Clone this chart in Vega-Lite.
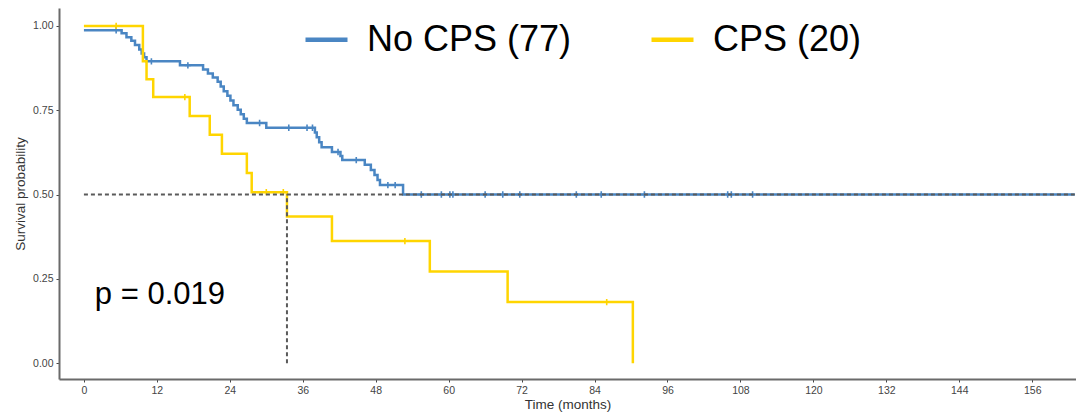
{
  "$schema": "https://vega.github.io/schema/vega-lite/v6.json",
  "width": 1017,
  "height": 371,
  "autosize": {"type": "none"},
  "padding": {"left": 59, "top": 8, "right": 0, "bottom": 33},
  "config": {
    "view": {"stroke": null},
    "font": "Liberation Sans",
    "axis": {
      "grid": false,
      "domainColor": "#6a6a6a",
      "domainWidth": 2,
      "tickColor": "#444444",
      "tickSize": 3,
      "tickWidth": 1,
      "labelColor": "#444444",
      "labelFontSize": 10.5,
      "labelPadding": 3,
      "titleColor": "#333333",
      "titleFontSize": 13.5,
      "titleFontWeight": "normal"
    }
  },
  "datasets": {
    "curves": [
      {"g": "No CPS (77)", "t": 0, "s": 0.987},
      {"g": "No CPS (77)", "t": 6.2, "s": 0.978},
      {"g": "No CPS (77)", "t": 7.0, "s": 0.966},
      {"g": "No CPS (77)", "t": 7.8, "s": 0.956},
      {"g": "No CPS (77)", "t": 8.4, "s": 0.943},
      {"g": "No CPS (77)", "t": 9.1, "s": 0.930},
      {"g": "No CPS (77)", "t": 9.5, "s": 0.918},
      {"g": "No CPS (77)", "t": 9.9, "s": 0.907},
      {"g": "No CPS (77)", "t": 10.3, "s": 0.895},
      {"g": "No CPS (77)", "t": 15.8, "s": 0.883},
      {"g": "No CPS (77)", "t": 19.6, "s": 0.871},
      {"g": "No CPS (77)", "t": 20.4, "s": 0.859},
      {"g": "No CPS (77)", "t": 21.2, "s": 0.847},
      {"g": "No CPS (77)", "t": 22.0, "s": 0.834},
      {"g": "No CPS (77)", "t": 22.5, "s": 0.820},
      {"g": "No CPS (77)", "t": 23.0, "s": 0.806},
      {"g": "No CPS (77)", "t": 23.6, "s": 0.793},
      {"g": "No CPS (77)", "t": 24.1, "s": 0.779},
      {"g": "No CPS (77)", "t": 24.6, "s": 0.765},
      {"g": "No CPS (77)", "t": 25.3, "s": 0.751},
      {"g": "No CPS (77)", "t": 25.8, "s": 0.738},
      {"g": "No CPS (77)", "t": 26.3, "s": 0.725},
      {"g": "No CPS (77)", "t": 26.8, "s": 0.712},
      {"g": "No CPS (77)", "t": 30.0, "s": 0.698},
      {"g": "No CPS (77)", "t": 38.0, "s": 0.684},
      {"g": "No CPS (77)", "t": 38.3, "s": 0.670},
      {"g": "No CPS (77)", "t": 38.7, "s": 0.655},
      {"g": "No CPS (77)", "t": 39.1, "s": 0.640},
      {"g": "No CPS (77)", "t": 40.8, "s": 0.626},
      {"g": "No CPS (77)", "t": 42.2, "s": 0.614},
      {"g": "No CPS (77)", "t": 42.5, "s": 0.602},
      {"g": "No CPS (77)", "t": 46.2, "s": 0.588},
      {"g": "No CPS (77)", "t": 47.2, "s": 0.573},
      {"g": "No CPS (77)", "t": 47.8, "s": 0.558},
      {"g": "No CPS (77)", "t": 48.3, "s": 0.543},
      {"g": "No CPS (77)", "t": 48.7, "s": 0.528},
      {"g": "No CPS (77)", "t": 52.5, "s": 0.500},
      {"g": "No CPS (77)", "t": 163, "s": 0.500},
      {"g": "CPS (20)", "t": 0, "s": 1.0},
      {"g": "CPS (20)", "t": 9.7, "s": 0.895},
      {"g": "CPS (20)", "t": 10.3, "s": 0.842},
      {"g": "CPS (20)", "t": 11.4, "s": 0.789},
      {"g": "CPS (20)", "t": 17.4, "s": 0.733},
      {"g": "CPS (20)", "t": 20.7, "s": 0.677},
      {"g": "CPS (20)", "t": 22.7, "s": 0.621},
      {"g": "CPS (20)", "t": 26.8, "s": 0.564},
      {"g": "CPS (20)", "t": 27.6, "s": 0.507},
      {"g": "CPS (20)", "t": 33.4, "s": 0.435},
      {"g": "CPS (20)", "t": 40.8, "s": 0.362},
      {"g": "CPS (20)", "t": 56.9, "s": 0.272},
      {"g": "CPS (20)", "t": 69.7, "s": 0.181},
      {"g": "CPS (20)", "t": 90.3, "s": 0.0}
    ],
    "censors": [
      {"g": "No CPS (77)", "t": 5.3, "s": 0.987},
      {"g": "No CPS (77)", "t": 11.1, "s": 0.895},
      {"g": "No CPS (77)", "t": 17.1, "s": 0.883},
      {"g": "No CPS (77)", "t": 28.9, "s": 0.712},
      {"g": "No CPS (77)", "t": 33.7, "s": 0.698},
      {"g": "No CPS (77)", "t": 36.7, "s": 0.698},
      {"g": "No CPS (77)", "t": 37.6, "s": 0.698},
      {"g": "No CPS (77)", "t": 41.8, "s": 0.626},
      {"g": "No CPS (77)", "t": 44.8, "s": 0.602},
      {"g": "No CPS (77)", "t": 50.0, "s": 0.528},
      {"g": "No CPS (77)", "t": 51.2, "s": 0.528},
      {"g": "No CPS (77)", "t": 55.5, "s": 0.5},
      {"g": "No CPS (77)", "t": 58.8, "s": 0.5},
      {"g": "No CPS (77)", "t": 60.2, "s": 0.5},
      {"g": "No CPS (77)", "t": 60.7, "s": 0.5},
      {"g": "No CPS (77)", "t": 66.0, "s": 0.5},
      {"g": "No CPS (77)", "t": 68.9, "s": 0.5},
      {"g": "No CPS (77)", "t": 71.7, "s": 0.5},
      {"g": "No CPS (77)", "t": 81.0, "s": 0.5},
      {"g": "No CPS (77)", "t": 85.1, "s": 0.5},
      {"g": "No CPS (77)", "t": 92.2, "s": 0.5},
      {"g": "No CPS (77)", "t": 105.9, "s": 0.5},
      {"g": "No CPS (77)", "t": 106.5, "s": 0.5},
      {"g": "No CPS (77)", "t": 110.0, "s": 0.5},
      {"g": "CPS (20)", "t": 5.3, "s": 1.0},
      {"g": "CPS (20)", "t": 16.6, "s": 0.789},
      {"g": "CPS (20)", "t": 30.0, "s": 0.507},
      {"g": "CPS (20)", "t": 32.8, "s": 0.507},
      {"g": "CPS (20)", "t": 52.8, "s": 0.362},
      {"g": "CPS (20)", "t": 86.0, "s": 0.181}
    ],
    "refs": [
      {"t": 0, "t2": 163, "s": 0.5, "s2": 0.5},
      {"t": 33.4, "t2": 33.4, "s": 0.0, "s2": 0.5}
    ],
    "labels": [
      {"t": 1.8, "s": 0.203, "label": "p = 0.019"}
    ]
  },
  "layer": [
    {
      "data": {"name": "curves"},
      "mark": {"type": "line", "interpolate": "step-after", "strokeWidth": 2.5, "clip": true},
      "encoding": {
        "x": {
          "field": "t", "type": "quantitative", "title": "Time (months)",
          "scale": {"domain": [-4.1, 163.2], "nice": false, "zero": false},
          "axis": {"values": [0, 12, 24, 36, 48, 60, 72, 84, 96, 108, 120, 132, 144, 156], "titlePadding": 2}
        },
        "y": {
          "field": "s", "type": "quantitative", "title": "Survival probability",
          "scale": {"domain": [-0.047, 1.053], "nice": false, "zero": false},
          "axis": {"values": [0, 0.25, 0.5, 0.75, 1], "format": ".2f", "titlePadding": 5}
        },
        "color": {
          "field": "g", "type": "nominal",
          "scale": {"domain": ["No CPS (77)", "CPS (20)"], "range": ["#4a86c3", "#ffd500"]},
          "legend": {
            "title": null,
            "orient": "none",
            "direction": "horizontal",
            "legendX": 244,
            "legendY": 8,
            "symbolType": "stroke",
            "symbolSize": 1764,
            "symbolStrokeWidth": 4.5,
            "labelFontSize": 36,
            "labelColor": "#000000",
            "labelOffset": 17,
            "labelLimit": 500,
            "columnPadding": 70
          }
        },
        "order": {"field": "t", "type": "quantitative"}
      }
    },
    {
      "data": {"name": "censors"},
      "mark": {"type": "point", "shape": "M0,-1L0,1M-1,0L1,0", "filled": false, "size": 40, "strokeWidth": 1.6, "opacity": 1},
      "encoding": {
        "x": {"field": "t", "type": "quantitative", "title": "Time (months)"},
        "y": {"field": "s", "type": "quantitative", "title": "Survival probability"},
        "color": {"field": "g", "type": "nominal", "legend": null}
      }
    },
    {
      "data": {"name": "refs"},
      "mark": {"type": "rule", "color": "#5a5a5a", "strokeWidth": 2, "strokeDash": [4, 3], "clip": true},
      "encoding": {
        "x": {"field": "t", "type": "quantitative", "title": "Time (months)"},
        "x2": {"field": "t2"},
        "y": {"field": "s", "type": "quantitative", "title": "Survival probability"},
        "y2": {"field": "s2"}
      }
    },
    {
      "data": {"name": "labels"},
      "mark": {"type": "text", "align": "left", "baseline": "middle", "fontSize": 31, "color": "#000000"},
      "encoding": {
        "x": {"field": "t", "type": "quantitative", "title": "Time (months)"},
        "y": {"field": "s", "type": "quantitative", "title": "Survival probability"},
        "text": {"field": "label"}
      }
    }
  ]
}
